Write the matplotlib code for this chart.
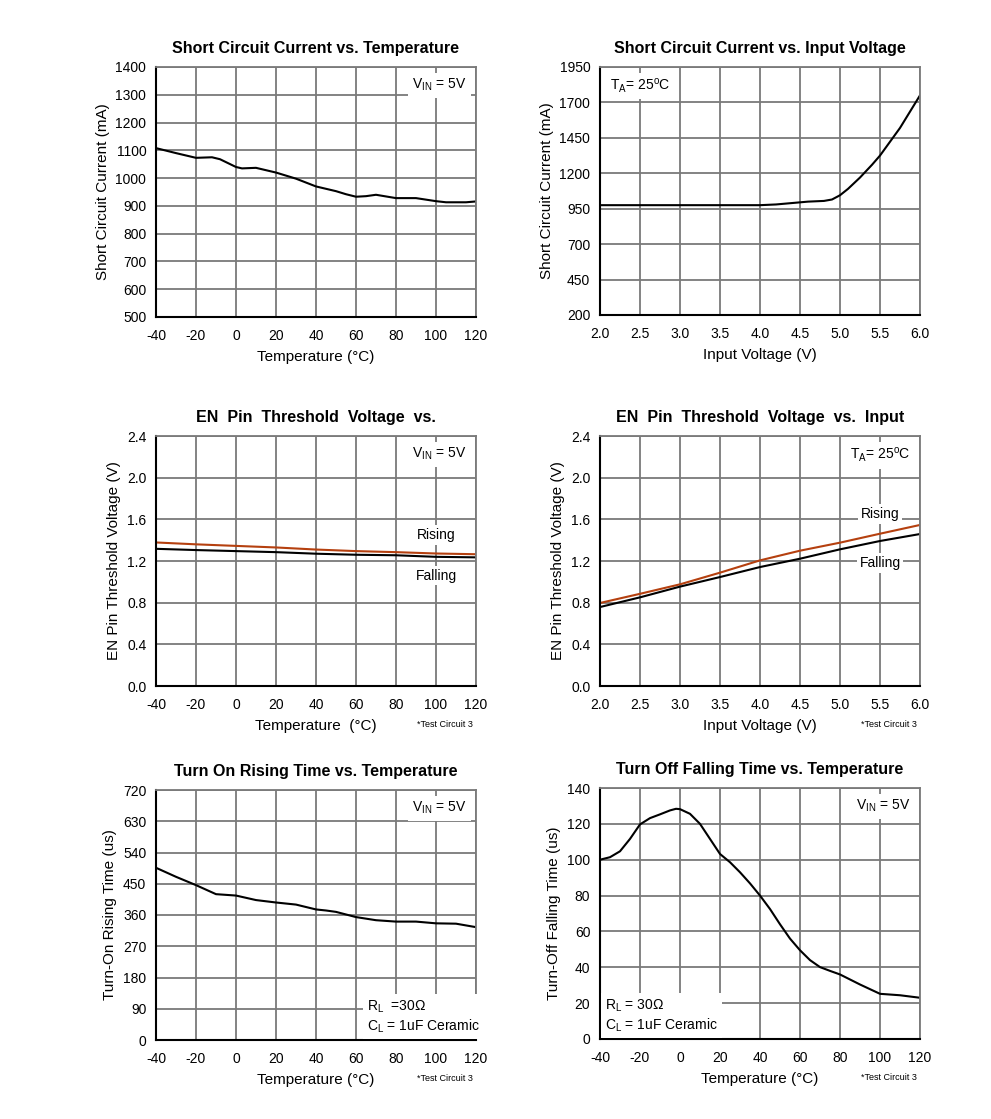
import numpy as np
import matplotlib
matplotlib.use("Agg")
import matplotlib.pyplot as plt

plt.rcParams['font.family'] = ['Liberation Sans', 'DejaVu Sans']
plt.rcParams['mathtext.fontset'] = 'custom'
plt.rcParams['mathtext.rm'] = 'Liberation Sans'
plt.rcParams['axes.unicode_minus'] = False

# short circuit current vs temperature
sc_temp = [-40, -30, -20, -12, -8, 0, 3, 10, 20, 30, 40, 50, 55, 60, 65, 70, 80, 90, 100, 105, 110, 115, 120]
sc_temp_ma = [1108, 1090, 1073, 1075, 1068, 1040, 1035, 1037, 1020, 998, 970, 953, 942, 933, 935, 940,
              928, 928, 917, 913, 913, 913, 916]

# short circuit current vs input voltage
sc_vin = [2.0, 3.0, 4.0, 4.2, 4.5, 4.6, 4.8, 4.9, 5.0, 5.1, 5.25, 5.4, 5.5, 5.75, 6.0]
sc_vin_ma = [975, 975, 975, 980, 995, 1000, 1005, 1015, 1045, 1090, 1170, 1260, 1325, 1520, 1750]

# EN threshold vs temperature
en_temp = [-40, -20, 0, 20, 40, 60, 80, 100, 120]
en_temp_rise = [1.378, 1.36, 1.345, 1.33, 1.31, 1.295, 1.285, 1.272, 1.265]
en_temp_fall = [1.317, 1.305, 1.295, 1.285, 1.27, 1.26, 1.255, 1.24, 1.235]

# EN threshold vs input voltage
en_vin = [2.0, 2.5, 3.0, 3.5, 4.0, 4.5, 5.0, 5.5, 6.0]
en_vin_rise = [0.797, 0.885, 0.976, 1.088, 1.206, 1.299, 1.376, 1.462, 1.546]
en_vin_fall = [0.758, 0.851, 0.954, 1.046, 1.142, 1.222, 1.312, 1.392, 1.459]

# turn on rising time
ton_temp = [-40, -30, -20, -10, -5, 0, 10, 20, 30, 40, 45, 50, 60, 70, 80, 90, 100, 110, 120]
ton_us = [496, 470, 446, 420, 418, 416, 403, 396, 390, 376, 373, 369, 354, 345, 341, 341, 336, 335, 325]

# turn off falling time
toff_temp = [-40, -35, -30, -25, -20, -15, -10, -5, -2, 0, 5, 10, 20, 25, 30, 35, 40, 45, 50, 55, 60, 65,
             70, 75, 80, 90, 100, 110, 120]
toff_us = [100, 101.4, 104.7, 111.6, 119.7, 123.2, 125.3, 127.5, 128.4, 128.2, 125.6, 120, 103.2, 98.6,
           93, 86.8, 80, 72.5, 64, 56, 49.5, 44, 40.1, 38, 36, 30.4, 25.2, 24.4, 23]

temp_ticks = [-40, -20, 0, 20, 40, 60, 80, 100, 120]
vin_ticks = [2.0, 2.5, 3.0, 3.5, 4.0, 4.5, 5.0, 5.5, 6.0]

W, H = 991, 1119
fig = plt.figure(figsize=(W / 100, H / 100), dpi=100)

RISE_COLOR = '#b5400f'
GRID_COLOR = '#7a7a7a'


def make_ax(x0, y_top, y_bot, width=320):
    ax = fig.add_axes([x0 / W, 1 - y_bot / H, width / W, (y_bot - y_top) / H])
    ax.grid(True, color=GRID_COLOR, linewidth=1.3, zorder=0)
    ax.set_axisbelow(True)
    ax.tick_params(length=0, labelsize=10, colors='black')
    ax.tick_params(axis='x', pad=8.5)
    ax.tick_params(axis='y', pad=7)
    for s in ['left', 'bottom']:
        ax.spines[s].set_color('black')
        ax.spines[s].set_linewidth(1.5)
    for s in ['top', 'right']:
        ax.spines[s].set_color(GRID_COLOR)
        ax.spines[s].set_linewidth(1.3)
    return ax


def labels(ax, title, xlabel, ylabel):
    ax.set_title(title, fontsize=11.5, fontweight='bold', pad=10)
    ax.set_xlabel(xlabel, fontsize=11, labelpad=5)
    ax.set_ylabel(ylabel, fontsize=11, labelpad=4)


def box_text(ax, x, y, s, ha='right', va='top', size=10):
    ax.text(x, y, s, transform=ax.transAxes, ha=ha, va=va, fontsize=size, zorder=3,
            bbox=dict(facecolor='white', edgecolor='none', pad=3))


def note(ax, s):
    ax.text(0.99, -0.155, s, transform=ax.transAxes, ha='right', va='center', fontsize=6.5)


VIN5 = r'V$_{\mathregular{IN}}$ = 5V'
TA25 = r'T$_{\mathregular{A}}$= 25$^{\mathregular{o}}$C'

# panel 1
ax = make_ax(156, 67, 317)
ax.plot(sc_temp, sc_temp_ma, color='black', lw=1.5, zorder=2)
ax.set_xlim(-40, 120)
ax.set_ylim(500, 1400)
ax.set_xticks(temp_ticks)
ax.set_yticks(np.arange(500, 1401, 100))
labels(ax, 'Short Circuit Current vs. Temperature', 'Temperature (°C)', 'Short Circuit Current (mA)')
box_text(ax, 0.97, 0.96, VIN5)

# panel 2
ax = make_ax(600, 67, 315)
ax.plot(sc_vin, sc_vin_ma, color='black', lw=1.5, zorder=2)
ax.set_xlim(2, 6)
ax.set_ylim(200, 1950)
ax.set_xticks(vin_ticks)
ax.set_xticklabels([f'{v:.1f}' for v in vin_ticks])
ax.set_yticks(np.arange(200, 1951, 250))
labels(ax, 'Short Circuit Current vs. Input Voltage', 'Input Voltage (V)', 'Short Circuit Current (mA)')
box_text(ax, 0.03, 0.96, TA25, ha='left')

# panel 3
ax = make_ax(156, 436, 686)
ax.plot(en_temp, en_temp_rise, color=RISE_COLOR, lw=1.5, zorder=2)
ax.plot(en_temp, en_temp_fall, color='black', lw=1.5, zorder=2)
ax.set_xlim(-40, 120)
ax.set_ylim(0, 2.4)
ax.set_xticks(temp_ticks)
ax.set_yticks(np.arange(0, 2.41, 0.4))
ax.set_yticklabels([f'{v:.1f}' for v in np.arange(0, 2.41, 0.4)])
labels(ax, 'EN  Pin  Threshold  Voltage  vs.', 'Temperature  (°C)', 'EN Pin Threshold Voltage (V)')
box_text(ax, 0.97, 0.96, VIN5)
ax.text(100, 1.45, 'Rising', ha='center', va='center', fontsize=10, zorder=3,
        bbox=dict(facecolor='white', edgecolor='none', pad=2))
ax.text(100, 1.06, 'Falling', ha='center', va='center', fontsize=10, zorder=3,
        bbox=dict(facecolor='white', edgecolor='none', pad=2))
note(ax, '*Test Circuit 3')

# panel 4
ax = make_ax(600, 436, 686)
ax.plot(en_vin, en_vin_rise, color=RISE_COLOR, lw=1.5, zorder=2)
ax.plot(en_vin, en_vin_fall, color='black', lw=1.5, zorder=2)
ax.set_xlim(2, 6)
ax.set_ylim(0, 2.4)
ax.set_xticks(vin_ticks)
ax.set_xticklabels([f'{v:.1f}' for v in vin_ticks])
ax.set_yticks(np.arange(0, 2.41, 0.4))
ax.set_yticklabels([f'{v:.1f}' for v in np.arange(0, 2.41, 0.4)])
labels(ax, 'EN  Pin  Threshold  Voltage  vs.  Input', 'Input Voltage (V)', 'EN Pin Threshold Voltage (V)')
box_text(ax, 0.97, 0.96, TA25)
ax.text(5.5, 1.65, 'Rising', ha='center', va='center', fontsize=10, zorder=3,
        bbox=dict(facecolor='white', edgecolor='none', pad=2))
ax.text(5.5, 1.18, 'Falling', ha='center', va='center', fontsize=10, zorder=3,
        bbox=dict(facecolor='white', edgecolor='none', pad=2))
note(ax, '*Test Circuit 3')

# panel 5
ax = make_ax(156, 790, 1040)
ax.plot(ton_temp, ton_us, color='black', lw=1.5, zorder=2)
ax.set_xlim(-40, 120)
ax.set_ylim(0, 720)
ax.set_xticks(temp_ticks)
ax.set_yticks(np.arange(0, 721, 90))
labels(ax, 'Turn On Rising Time vs. Temperature', 'Temperature (°C)', 'Turn-On Rising Time (us)')
box_text(ax, 0.97, 0.96, VIN5)
box_text(ax, 0.66, 0.02, r'R$_{\mathregular{L}}$  =30Ω' + '\n' + r'C$_{\mathregular{L}}$ = 1uF Ceramic',
         ha='left', va='bottom')
note(ax, '*Test Circuit 3')

# panel 6
ax = make_ax(600, 788, 1039)
ax.plot(toff_temp, toff_us, color='black', lw=1.5, zorder=2)
ax.set_xlim(-40, 120)
ax.set_ylim(0, 140)
ax.set_xticks(temp_ticks)
ax.set_yticks(np.arange(0, 141, 20))
labels(ax, 'Turn Off Falling Time vs. Temperature', 'Temperature (°C)', 'Turn-Off Falling Time (us)')
box_text(ax, 0.97, 0.96, VIN5)
box_text(ax, 0.015, 0.02, r'R$_{\mathregular{L}}$ = 30Ω' + '\n' + r'C$_{\mathregular{L}}$ = 1uF Ceramic',
         ha='left', va='bottom')
note(ax, '*Test Circuit 3')

fig.savefig('out.png', dpi=100, facecolor='white')
